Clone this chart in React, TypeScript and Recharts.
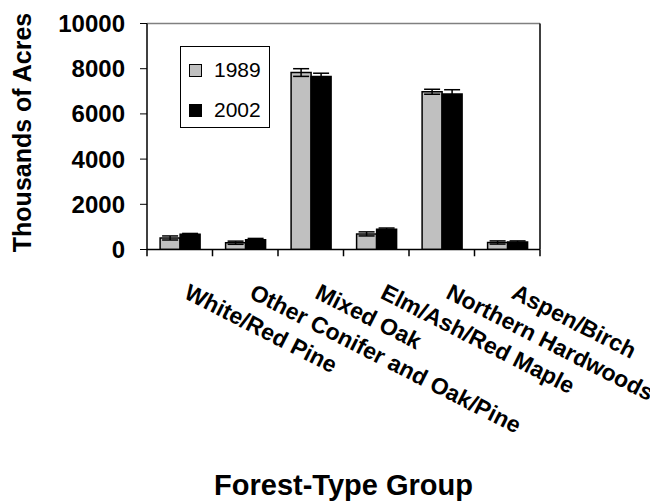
import { BarChart, Bar, XAxis, YAxis, ErrorBar, ReferenceLine, Label } from "recharts";

const FONT = "'Liberation Sans', Arial, Helvetica, sans-serif";

const categories = [
  "White/Red Pine",
  "Other Conifer and Oak/Pine",
  "Mixed Oak",
  "Elm/Ash/Red Maple",
  "Northern Hardwoods",
  "Aspen/Birch",
];
const acres1989 = [510, 300, 7830, 690, 6980, 310];
const err1989 = [90, 70, 170, 90, 110, 70];
const acres2002 = [670, 430, 7650, 900, 6880, 330];
const err2002 = [40, 60, 150, 50, 190, 50];
const yTicks = [0, 2000, 4000, 6000, 8000, 10000];

// depth of the category boundary ticks below the axis, in y units
const TICK_DEPTH = 300;

const data = categories.map((name, i) => ({
  name,
  y1989: acres1989[i],
  e1989: err1989[i],
  y2002: acres2002[i],
  e2002: err2002[i],
}));

function CategoryTick({ x, y, payload }: any) {
  return (
    <g transform={`translate(${x + 3},${y + 48})`}>
      <text
        transform="rotate(27)"
        textAnchor="start"
        fontSize={23}
        fontWeight="bold"
        fill="#000"
        fontFamily={FONT}
      >
        {payload.value}
      </text>
    </g>
  );
}

function YTitle({ viewBox }: any) {
  const cx = viewBox.x + 14;
  const cy = viewBox.y + viewBox.height / 2 - 4;
  return (
    <text
      x={cx}
      y={cy}
      transform={`rotate(-90, ${cx}, ${cy})`}
      textAnchor="middle"
      dominantBaseline="central"
      fontSize={25}
      fontWeight="bold"
      fill="#000"
      fontFamily={FONT}
    >
      Thousands of Acres
    </text>
  );
}

function XTitle({ viewBox }: any) {
  return (
    <text
      x={viewBox.x + viewBox.width / 2}
      y={viewBox.y + 245.5}
      textAnchor="middle"
      fontSize={29}
      fontWeight="bold"
      fill="#000"
      fontFamily={FONT}
    >
      Forest-Type Group
    </text>
  );
}

const swatch = (color: string) => ({
  width: 11,
  height: 11,
  background: color,
  border: "1px solid #000",
  marginRight: 12,
});

export default function App() {
  const last = categories[categories.length - 1];
  return (
    <div style={{ position: "relative", width: 650, height: 496, fontFamily: FONT }}>
      <BarChart
        width={650}
        height={496}
        data={data}
        margin={{ top: 15.5, right: 117, left: 0, bottom: 253.5 }}
        barCategoryGap="20%"
        barGap={0}
      >
        <XAxis
          dataKey="name"
          interval={0}
          axisLine={{ stroke: "#000", strokeWidth: 1.5 }}
          tickLine={false}
          tickSize={0}
          tickMargin={0}
          height={1}
          tick={<CategoryTick />}
        >
          <Label content={<XTitle />} />
        </XAxis>
        <YAxis
          domain={[0, 10000]}
          ticks={yTicks}
          interval={0}
          width={139}
          tickSize={7}
          tickMargin={15}
          axisLine={{ stroke: "#000", strokeWidth: 1.5 }}
          tickLine={{ stroke: "#000" }}
          tick={{ fontSize: 24, fontWeight: "bold", fill: "#000", fontFamily: FONT }}
          allowDataOverflow
        >
          <Label content={<YTitle />} />
        </YAxis>
        <YAxis
          yAxisId="right"
          orientation="right"
          domain={[0, 1]}
          width={1}
          tick={false}
          tickLine={false}
          axisLine={{ stroke: "#000", strokeWidth: 1.5 }}
        />
        <ReferenceLine y={10000} stroke="#808080" strokeWidth={1.5} />
        {categories.map((c) => (
          <ReferenceLine
            key={c}
            segment={[{ x: c, y: 0 }, { x: c, y: -TICK_DEPTH }]}
            position="start"
            ifOverflow="visible"
            stroke="#000"
            strokeWidth={1.5}
          />
        ))}
        <ReferenceLine
          segment={[{ x: last, y: 0 }, { x: last, y: -TICK_DEPTH }]}
          position="end"
          ifOverflow="visible"
          stroke="#000"
          strokeWidth={1.5}
        />
        <Bar
          dataKey="y1989"
          fill="#C0C0C0"
          stroke="#000"
          strokeWidth={1.5}
          isAnimationActive={false}
        >
          <ErrorBar dataKey="e1989" width={8} stroke="#000" strokeWidth={1.5} direction="y" isAnimationActive={false} />
        </Bar>
        <Bar
          dataKey="y2002"
          fill="#000"
          stroke="#000"
          strokeWidth={1.5}
          isAnimationActive={false}
        >
          <ErrorBar dataKey="e2002" width={8} stroke="#000" strokeWidth={1.5} direction="y" isAnimationActive={false} />
        </Bar>
      </BarChart>
      <div
        style={{
          position: "absolute",
          left: 172,
          top: 38,
          width: 88,
          height: 80,
          border: "1px solid #000",
          background: "#fff",
          fontSize: 21,
          color: "#000",
        }}
      >
        <div style={{ position: "absolute", left: 8, top: 12, display: "flex", alignItems: "center", height: 22 }}>
          <div style={swatch("#C0C0C0")} />
          <span>1989</span>
        </div>
        <div style={{ position: "absolute", left: 8, top: 52, display: "flex", alignItems: "center", height: 22 }}>
          <div style={swatch("#000")} />
          <span>2002</span>
        </div>
      </div>
    </div>
  );
}
